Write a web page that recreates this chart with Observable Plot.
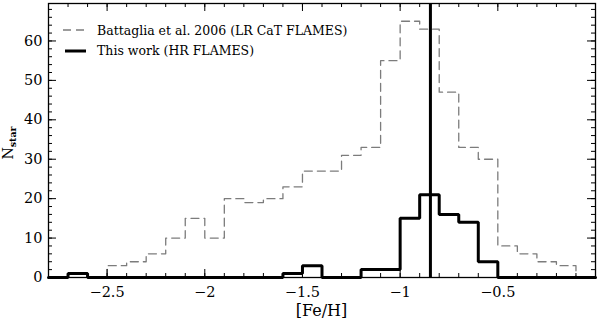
<!DOCTYPE html>
<html><head><meta charset="utf-8">
<script src="https://cdn.jsdelivr.net/npm/d3@7"></script>
<script src="https://cdn.jsdelivr.net/npm/@observablehq/plot@0.6"></script>
<style>html,body{margin:0;padding:0;background:#fff}svg{display:block}</style>
</head><body><div id="chart"></div>
<script>
// Battaglia et al. 2006 (LR CaT FLAMES): bin left edges and counts (bin width 0.1 dex)
const lrBinStarts = [-2.5,-2.4,-2.3,-2.2,-2.1,-2.0,-1.9,-1.8,-1.7,-1.6,-1.5,-1.4,-1.3,-1.2,-1.1,-1.0,-0.9,-0.8,-0.7,-0.6,-0.5,-0.4,-0.3,-0.2];
const lrCounts    = [3,4,6,10,15,10,20,19,20,23,27,27,31,33,55,65,63,47,33,30,8,6,4,3];
// This work (HR FLAMES)
const hrBinStarts = [-2.8,-2.7,-2.6,-2.5,-2.4,-2.3,-2.2,-2.1,-2.0,-1.9,-1.8,-1.7,-1.6,-1.5,-1.4,-1.3,-1.2,-1.1,-1.0,-0.9,-0.8,-0.7,-0.6,-0.5,-0.4,-0.3,-0.2,-0.1];
const hrCounts    = [0,1,0,0,0,0,0,0,0,0,0,0,1,3,0,0,2,2,15,21,16,14,4,0,0,0,0,0];
const binWidth = 0.1;
const meanFeH = -0.845;
const legendLabels = ["Battaglia et al. 2006 (LR CaT FLAMES)", "This work (HR FLAMES)"];
const xMajorTicks = [-2.5,-2,-1.5,-1,-0.5];
const xTickLabels = ["\u22122.5","\u22122","\u22121.5","\u22121","\u22120.5"];
const yMajorTicks = [0,10,20,30,40,50,60];
const yTickLabels = ["0","10","20","30","40","50","60"];

function steps(starts, counts) {
  const pts = [{x: starts[0], y: 0}];
  starts.forEach((s, i) => pts.push({x: s, y: counts[i]}));
  const end = +(starts[starts.length - 1] + binWidth).toFixed(3);
  pts.push({x: end, y: counts[counts.length - 1]});
  pts.push({x: end, y: 0});
  return pts;
}

const W = 600, H = 322, mL = 48, mR = 5, mT = 3, mB = 45;
const pw = W - mL - mR, ph = H - mT - mB;
const xDomain = [-2.8, 0], yDomain = [0, 69.5];
const xMinor = d3.range(-27, 0).map(d => d / 10);
const yMinor = d3.range(0, 70, 2);
// tick lengths converted to data units (minor 4px, major 8px)
const kx = (xDomain[1] - xDomain[0]) / pw, ky = (yDomain[1] - yDomain[0]) / ph;
const xt = (vals, len, top) => vals.map(v => ({x: v, y1: top ? yDomain[1] : yDomain[0], y2: top ? yDomain[1] - len * ky : yDomain[0] + len * ky}));
const yt = (vals, len, right) => vals.map(v => ({y: v, x1: right ? xDomain[1] : xDomain[0], x2: right ? xDomain[1] - len * kx : xDomain[0] + len * kx}));
const xTicksAll = [...xt(xMinor, 4, false), ...xt(xMinor, 4, true), ...xt(xMajorTicks, 8, false), ...xt(xMajorTicks, 8, true)];
const yTicksAll = [...yt(yMinor, 4, false), ...yt(yMinor, 4, true), ...yt(yMajorTicks, 8, false), ...yt(yMajorTicks, 8, true)];

const FONT = "DejaVu Serif";
const plot = Plot.plot({
  width: W, height: H,
  marginLeft: mL, marginRight: mR, marginTop: mT, marginBottom: mB,
  x: {domain: xDomain},
  y: {domain: yDomain},
  style: {fontFamily: FONT, fontSize: "14.5px", background: "white", color: "black"},
  marks: [
    Plot.line(steps(lrBinStarts, lrCounts), {x: "x", y: "y", curve: "step-after", stroke: "#7c7c7c", strokeWidth: 1.3, strokeDasharray: "8,5"}),
    Plot.line(steps(hrBinStarts, hrCounts), {x: "x", y: "y", curve: "step-after", stroke: "black", strokeWidth: 3, strokeLinejoin: "miter"}),
    Plot.ruleX([meanFeH], {stroke: "black", strokeWidth: 3}),
    Plot.ruleX(xTicksAll, {x: "x", y1: "y1", y2: "y2", stroke: "black", strokeWidth: 1}),
    Plot.ruleY(yTicksAll, {y: "y", x1: "x1", x2: "x2", stroke: "black", strokeWidth: 1}),
    Plot.frame({stroke: "black", strokeWidth: 1.3}),
    Plot.axisX(xMajorTicks, {anchor: "bottom", tickSize: 0, tickPadding: 9, tickFormat: d => xTickLabels[xMajorTicks.indexOf(d)], label: null}),
    Plot.axisY(yMajorTicks, {anchor: "left", tickSize: 0, tickPadding: 6, tickFormat: d => yTickLabels[yMajorTicks.indexOf(d)], label: null})
  ]
});
document.getElementById("chart").append(plot);

const svg = d3.select(plot);
// x axis label
svg.append("text").attr("x", mL + pw / 2).attr("y", 311).attr("text-anchor", "middle").attr("dominant-baseline", "middle")
  .attr("font-family", FONT).attr("font-size", 16).text("[Fe/H]");
// y axis label with subscript
const yl = svg.append("text").attr("transform", `translate(13,143) rotate(-90)`).attr("text-anchor", "middle")
  .attr("font-family", FONT).attr("font-size", 14);
yl.append("tspan").text("N");
yl.append("tspan").attr("font-size", 9.5).attr("font-weight", "bold").attr("dy", 3).text("star");
// legend
const lg = svg.append("g");
lg.append("line").attr("x1", 63).attr("x2", 86).attr("y1", 30).attr("y2", 30).attr("stroke", "#7c7c7c").attr("stroke-width", 1.3).attr("stroke-dasharray", "8,5");
lg.append("line").attr("x1", 65).attr("x2", 86).attr("y1", 51).attr("y2", 51).attr("stroke", "black").attr("stroke-width", 3);
legendLabels.forEach((t, i) => {
  lg.append("text").attr("x", 97).attr("y", 31 + 20.5 * i).attr("dominant-baseline", "middle").attr("text-anchor", "start")
    .attr("font-family", FONT).attr("font-size", 12.5).text(t);
});
</script>
</body></html>
